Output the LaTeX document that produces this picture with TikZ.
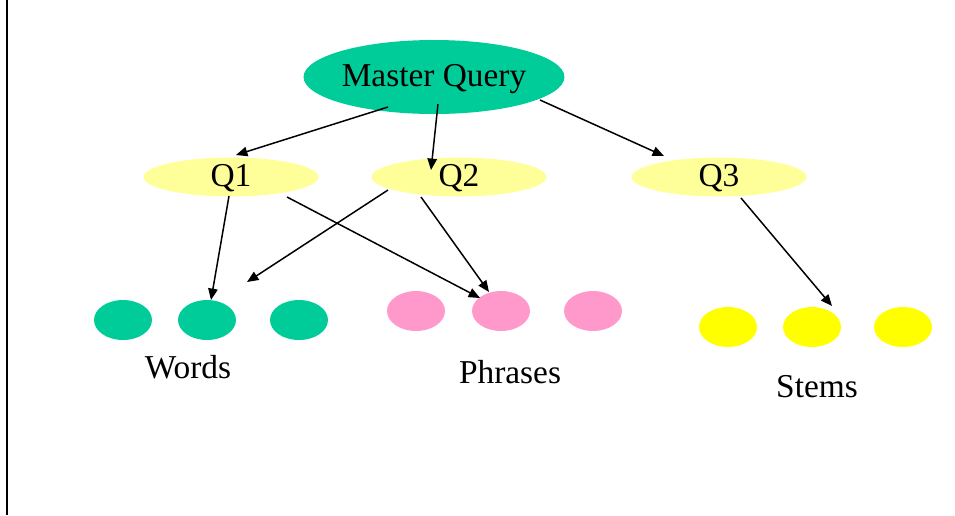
\documentclass[tikz,border=0pt]{standalone}
\usepackage{fontspec}
\setmainfont{Liberation Serif}
\usetikzlibrary{shapes.geometric,arrows.meta}

\definecolor{mqgreen}{RGB}{0,204,153}
\definecolor{qyellow}{RGB}{255,255,153}
\definecolor{dotpink}{RGB}{255,153,204}
\definecolor{dotyellow}{RGB}{255,255,0}

\tikzset{
	blob/.style={ellipse, inner sep=0pt, draw=none, text depth=0.5ex},
	qnode/.style={blob, fill=qyellow, minimum width=3.5cm, minimum height=0.78cm},
	dot/.style={blob, minimum width=1.16cm, minimum height=0.8cm},
	arr/.style={-{Triangle[length=6.5pt,width=5.4pt]}, line width=0.85pt},
}

\begin{document}
\begin{tikzpicture}[x=0.02cm, y=-0.02cm, font=\fontsize{19}{23}\selectfont]
	\useasboundingbox (0,0) rectangle (955,515);
	\draw[line width=1.4pt] (7,0) -- (7,515);

	% queries
	\node [blob, fill=mqgreen, minimum width=5.2cm, minimum height=1.48cm] (mq) at (434,77) {Master Query};
	\node [qnode] (q1) at (231,177) {Q1};
	\node [qnode] (q2) at (459,177) {Q2};
	\node [qnode] (q3) at (719,177) {Q3};

	% words
	\node [dot, fill=mqgreen] (w1) at (123,320) {};
	\node [dot, fill=mqgreen] (w2) at (207,320) {};
	\node [dot, fill=mqgreen] (w3) at (299,320) {};
	\node (words) at (188,367) {Words};

	% phrases
	\node [dot, fill=dotpink] (p1) at (416,311) {};
	\node [dot, fill=dotpink] (p2) at (501,311) {};
	\node [dot, fill=dotpink] (p3) at (593,311) {};
	\node (phrases) at (510,372) {Phrases};

	% stems
	\node [dot, fill=dotyellow] (s1) at (728,327) {};
	\node [dot, fill=dotyellow] (s2) at (812,327) {};
	\node [dot, fill=dotyellow] (s3) at (903,327) {};
	\node (stems) at (817,387) {Stems};

	\coordinate (gap) at (247,282);

	\draw[arr] ([shift={(-46,30)}]mq.center) -- ([shift={(5,-22)}]q1.center);
	\draw[arr] ([shift={(4,27)}]mq.center) -- ([shift={(-28,-7)}]q2.center);
	\draw[arr] ([shift={(106,23)}]mq.center) -- ([shift={(-55,-21)}]q3.center);
	\draw[arr] ([shift={(-2,19)}]q1.center) -- ([shift={(4,-20)}]w2.center);
	\draw[arr] ([shift={(56,20)}]q1.center) -- ([shift={(-21,-13)}]p2.center);
	\draw[arr] ([shift={(-71,13)}]q2.center) -- (gap);
	\draw[arr] ([shift={(-38,20)}]q2.center) -- ([shift={(-12,-19)}]p2.center);
	\draw[arr] ([shift={(22,21)}]q3.center) -- ([shift={(20,-21)}]s2.center);
\end{tikzpicture}
\end{document}
